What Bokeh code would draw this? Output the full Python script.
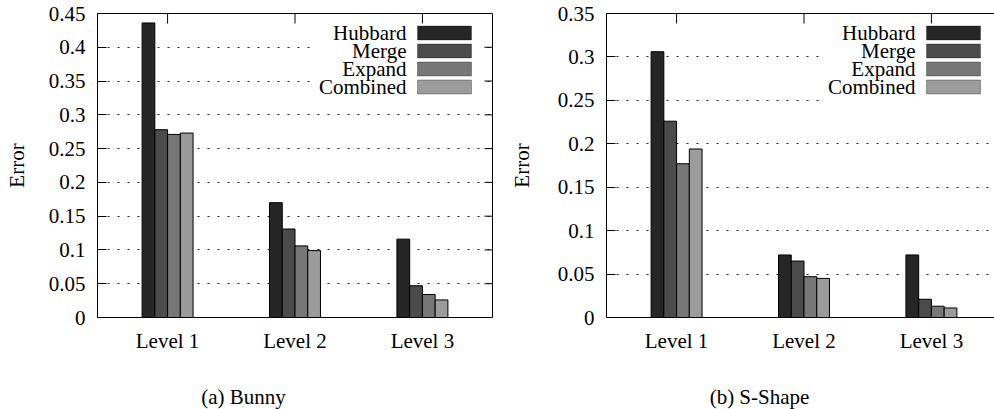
import numpy as np
from bokeh.plotting import figure
from bokeh.layouts import row, column
from bokeh.models import Range1d, FixedTicker, LinearAxis, BoxAnnotation, Label
from bokeh.embed import file_html
from bokeh.resources import INLINE

# ---------------- data ----------------
levels = ["Level 1", "Level 2", "Level 3"]
series = ["Hubbard", "Merge", "Expand", "Combined"]

bunny_hubbard = [0.436, 0.170, 0.116]
bunny_merge = [0.278, 0.131, 0.047]
bunny_expand = [0.271, 0.106, 0.034]
bunny_combined = [0.273, 0.099, 0.026]

sshape_hubbard = [0.306, 0.072, 0.072]
sshape_merge = [0.226, 0.065, 0.021]
sshape_expand = [0.177, 0.047, 0.013]
sshape_combined = [0.194, 0.045, 0.011]

yticks_a = [0, 0.05, 0.1, 0.15, 0.2, 0.25, 0.3, 0.35, 0.4, 0.45]
ylabels_a = ["0", "0.05", "0.1", "0.15", "0.2", "0.25", "0.3", "0.35", "0.4", "0.45"]
yticks_b = [0, 0.05, 0.1, 0.15, 0.2, 0.25, 0.3, 0.35]
ylabels_b = ["0", "0.05", "0.1", "0.15", "0.2", "0.25", "0.3", "0.35"]

captions = ["(a) Bunny", "(b) S-Shape"]
ylabel = "Error"

# ---------------- style ----------------
colors = ["#262626", "#4b4b4b", "#777777", "#9b9b9b"]
offsets = [-0.15, -0.05, 0.05, 0.15]
bar_w = 0.1
FONT = "'Liberation Serif', 'Times New Roman', serif"
FS = "21px"
PX_PER_UNIT = 395 / 3.1
FRAME_H = 304
FIG_H = 379
CAP_H = 30
TOP_B = 13


def make_panel(vals, yticks, ylabels, caption, width, bl, br, right_side,
               cap_dx, label_standoff):
    frame_w = width - bl - br
    x_end = -0.55 + frame_w / PX_PER_UNIT
    ymax = yticks[-1]
    xr = Range1d(-0.55, x_end)
    yr = Range1d(0, ymax)
    p = figure(width=width, height=FIG_H, x_range=xr, y_range=yr,
               output_backend="svg", toolbar_location=None,
               min_border_left=bl, min_border_right=br,
               min_border_top=TOP_B, min_border_bottom=FIG_H - TOP_B - FRAME_H)
    p.background_fill_color = "white"
    p.border_fill_color = "white"
    p.outline_line_alpha = 0

    def to_data(dx, dy):
        return (xr.start + dx / frame_w * (xr.end - xr.start),
                yr.end - dy / FRAME_H * (yr.end - yr.start))

    idx = np.arange(len(levels))

    # grid
    p.xgrid.visible = False
    p.ygrid.ticker = FixedTicker(ticks=yticks)
    p.ygrid.grid_line_color = "black"
    p.ygrid.grid_line_dash = "2 8"
    p.ygrid.grid_line_width = 1
    p.ygrid.grid_line_alpha = 0.85

    for s, v, c, o in zip(series, vals, colors, offsets):
        p.vbar(x=idx + o, top=v, bottom=0, width=bar_w,
               fill_color=c, line_color="black", line_width=1)

    # bottom axis
    xa = p.xaxis[0]
    xa.ticker = FixedTicker(ticks=list(idx))
    xa.major_label_overrides = {int(i): lab for i, lab in zip(idx, levels)}
    xa.major_tick_in = 0
    xa.major_tick_out = 0
    xa.minor_tick_in = 0
    xa.minor_tick_out = 0
    xa.major_label_text_font = FONT
    xa.major_label_text_font_size = FS
    xa.major_label_text_color = "black"
    xa.major_label_standoff = 11
    xa.axis_line_color = "black"

    # left axis
    ya = p.yaxis[0]
    ya.ticker = FixedTicker(ticks=yticks)
    ya.major_label_overrides = {t: l for t, l in zip(yticks, ylabels)}
    ya.major_tick_in = 9
    ya.major_tick_out = 0
    ya.minor_tick_in = 0
    ya.minor_tick_out = 0
    ya.major_label_text_font = FONT
    ya.major_label_text_font_size = FS
    ya.major_label_text_color = "black"
    ya.major_label_standoff = 12
    ya.axis_label = ylabel
    ya.axis_label_text_font = FONT
    ya.axis_label_text_font_size = FS
    ya.axis_label_text_font_style = "normal"
    ya.axis_label_text_color = "black"
    ya.axis_label_standoff = label_standoff
    ya.axis_line_color = "black"

    # top border line (no labels) + mirrored category ticks
    ta = LinearAxis(ticker=FixedTicker(ticks=[]), major_tick_in=0,
                    major_tick_out=0, minor_tick_in=0, minor_tick_out=0,
                    axis_line_color="black")
    p.add_layout(ta, "above")
    tick_len_top = 10 / FRAME_H * ymax
    p.segment(x0=idx, x1=idx, y0=[ymax] * len(idx),
              y1=[ymax - tick_len_top] * len(idx), line_color="black", line_width=1)

    if right_side:
        ra = LinearAxis(ticker=FixedTicker(ticks=[]), major_tick_in=0,
                        major_tick_out=0, minor_tick_in=0, minor_tick_out=0,
                        axis_line_color="black")
        p.add_layout(ra, "right")
        tick_len_r = 8 / PX_PER_UNIT
        p.segment(x0=[x_end - tick_len_r] * len(yticks), x1=[x_end] * len(yticks),
                  y0=yticks, y1=yticks, line_color="black", line_width=1)

    # legend (text left of swatch, right-aligned)
    x0, y0 = to_data(218, 11)
    x1, y1 = to_data(386, 90)
    p.add_layout(BoxAnnotation(left=x0, right=x1, top=y0, bottom=y1,
                               fill_color="white", fill_alpha=1,
                               line_alpha=0))
    for i, (s, c) in enumerate(zip(series, colors)):
        cy = 19.5 + 18 * i
        bx0, by0 = to_data(320, cy - 7)
        bx1, by1 = to_data(374, cy + 7)
        p.add_layout(BoxAnnotation(left=bx0, right=bx1, top=by0, bottom=by1,
                                   fill_color=c, fill_alpha=1,
                                   line_color="black", line_width=1))
        tx, ty = to_data(309, cy)
        p.add_layout(Label(x=tx, y=ty, text=s, text_align="right",
                           text_baseline="middle", text_font=FONT,
                           text_font_size=FS, text_color="black"))

    # caption strip below the plot; its frame is aligned with the plot frame,
    # so its x range is pixels measured from the frame's left edge
    c = figure(width=width, height=CAP_H, x_range=Range1d(0, frame_w),
               y_range=Range1d(0, CAP_H), output_backend="svg",
               toolbar_location=None, x_axis_type=None, y_axis_type=None,
               min_border=0)
    c.xgrid.visible = False
    c.ygrid.visible = False
    c.outline_line_alpha = 0
    c.background_fill_color = "white"
    c.border_fill_color = "white"
    c.add_layout(Label(x=cap_dx, y=CAP_H - 17, text=caption, text_align="center",
                       text_baseline="middle", text_font=FONT,
                       text_font_size=FS, text_color="black"))
    return column(p, c, spacing=0)


p1 = make_panel([bunny_hubbard, bunny_merge, bunny_expand, bunny_combined],
                yticks_a, ylabels_a, captions[0], width=500, bl=97, br=8,
                right_side=True, cap_dx=146, label_standoff=17)
p2 = make_panel([sshape_hubbard, sshape_merge, sshape_expand, sshape_combined],
                yticks_b, ylabels_b, captions[1], width=494, bl=106, br=0,
                right_side=False, cap_dx=153, label_standoff=21)

layout = row(p1, p2)
open("out.html", "w").write(file_html(layout, INLINE))
